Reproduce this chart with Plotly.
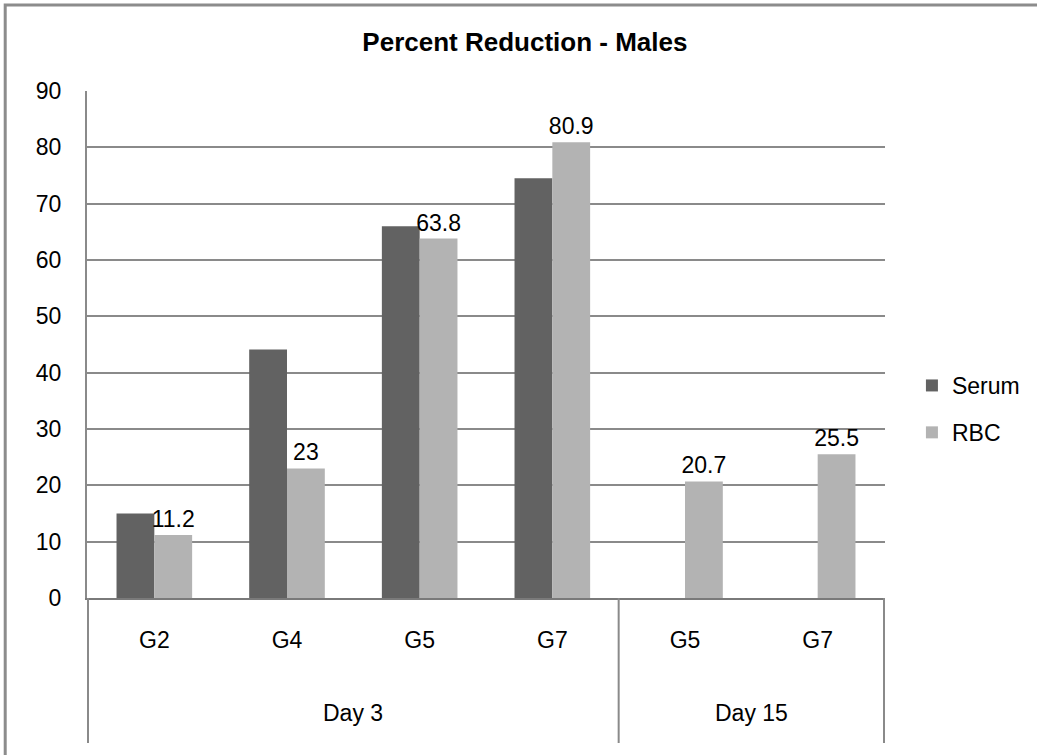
import plotly.graph_objects as go

days = ["Day 3", "Day 3", "Day 3", "Day 3", "Day 15", "Day 15"]
groups = ["G2", "G4", "G5", "G7", "G5", "G7"]
serum = [15.0, 44.1, 66.0, 74.5, None, None]
rbc = [11.2, 23, 63.8, 80.9, 20.7, 25.5]
rbc_labels = ["11.2", "23", "63.8", "80.9", "20.7", "25.5"]
day_names = ["Day 3", "Day 15"]

W, H = 1037, 755
L, R, T, B = 87, 150, 91, 157
PW, PH = W - L - R, H - T - B

ids = [f"{d} {g}" for d, g in zip(days, groups)]
FONT = "Liberation Sans, Arial, sans-serif"
GRID = "#8a8a8a"

fig = go.Figure()
fig.add_trace(go.Bar(x=ids, y=serum, name="Serum", marker_color="#626262",
                     marker_line_width=0, legendgroup="a"))
fig.add_trace(go.Bar(x=ids, y=rbc, name="RBC", marker_color="#b3b3b3",
                     marker_line_width=0, legendgroup="b",
                     text=rbc_labels, textposition="outside",
                     constraintext="none",
                     textfont=dict(size=23, color="black", family=FONT),
                     cliponaxis=False))


def py(pix):
    return (T + PH - pix) / PH


def px(pix):
    return (pix - L) / PW


shapes = []
# outer frame (left and top visible)
shapes.append(dict(type="rect", xref="paper", yref="paper",
                   x0=px(5), x1=px(W + 50), y0=py(H + 50), y1=py(5),
                   line=dict(color="#8c8c8c", width=3), layer="below"))
# group dividers below axis
bounds = [-0.5]
for i in range(1, len(days)):
    if days[i] != days[i - 1]:
        bounds.append(i - 0.5)
bounds.append(len(days) - 0.5)
for b in bounds:
    shapes.append(dict(type="line", xref="x", yref="paper", x0=b, x1=b,
                       y0=0, y1=py(743), line=dict(color=GRID, width=2)))

annotations = []
for dn in day_names:
    idx = [i for i, d in enumerate(days) if d == dn]
    annotations.append(dict(text=dn, xref="x", yref="paper",
                            x=sum(idx) / len(idx), y=py(713),
                            showarrow=False, yanchor="middle",
                            font=dict(size=23, color="black", family=FONT)))

fig.update_layout(
    width=W, height=H,
    margin=dict(l=L, r=R, t=T, b=B),
    paper_bgcolor="white", plot_bgcolor="white",
    font=dict(family=FONT, size=23, color="black"),
    title=dict(text="<b>Percent Reduction - Males</b>", x=px(526), xref="paper",
               xanchor="center", y=1 - 42 / H, yanchor="middle",
               font=dict(size=26, color="black", family=FONT)),
    barmode="group", bargap=0.43, bargroupgap=0,
    showlegend=True,
    legend=dict(x=px(914), xanchor="left", y=py(364), yanchor="top",
                font=dict(size=23, color="black", family=FONT),
                tracegroupgap=14, bgcolor="rgba(0,0,0,0)"),
    shapes=shapes, annotations=annotations,
)
fig.update_yaxes(range=[0, 90], dtick=10, showgrid=True, gridcolor=GRID,
                 gridwidth=1.5, zeroline=False, showline=True, linecolor=GRID,
                 linewidth=2, ticks="", ticklabelstandoff=19,
                 tickfont=dict(size=23, color="black", family=FONT))
fig.update_xaxes(tickvals=ids, ticktext=groups, showline=True, linecolor="#7a7a7a",
                 linewidth=2, ticks="", ticklabelstandoff=20, showgrid=False,
                 tickfont=dict(size=23, color="black", family=FONT))

fig.write_html("out.html", config={"displayModeBar": False},
               post_script="document.body.style.margin='0';"
                           "document.body.style.overflow='hidden';")
